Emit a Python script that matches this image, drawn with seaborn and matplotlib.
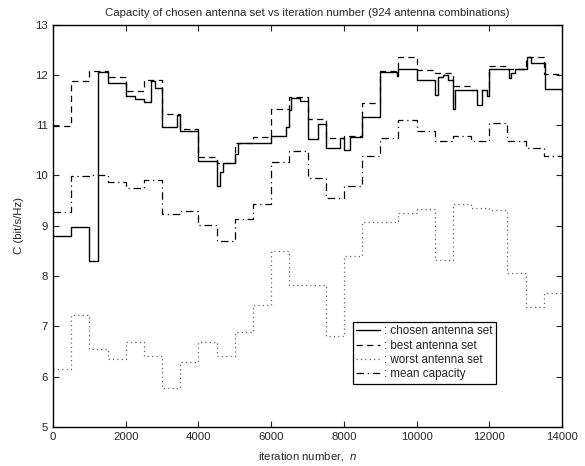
import matplotlib
matplotlib.use("Agg")
import matplotlib.pyplot as plt
import seaborn as sns
import pandas as pd

# ---------------- data (step breakpoints: iteration, capacity) ----------------
chosen_t = [0, 500, 1000, 1250, 1500, 2000, 2250, 2500, 2700, 2800, 3000, 3400, 3500,
            4000, 4500, 4580, 4670, 5000, 5100, 6000, 6400, 6480, 6550, 6800, 7000,
            7300, 7500, 7880, 8010, 8160, 8500, 9000, 9450, 9500, 10000, 10500, 10578,
            10725, 10862, 11000, 11046, 11661, 11798, 11936, 12000, 12532, 12600, 12700,
            13037, 13156, 13541, 14000]
chosen_c = [8.80, 8.97, 8.30, 12.05, 11.84, 11.57, 11.52, 11.46, 11.88, 11.73, 10.97, 11.20, 10.88,
            10.28, 9.79, 10.06, 10.24, 10.42, 10.65, 10.78, 10.97, 11.30, 11.53, 11.47, 10.72,
            11.02, 10.55, 10.74, 10.51, 10.76, 11.16, 12.06, 11.98, 12.11, 11.90, 11.60, 11.96,
            11.99, 11.90, 11.33, 11.70, 11.40, 11.70, 11.57, 12.11, 11.93, 12.03, 12.11,
            12.36, 12.23, 11.72, 11.72]

best_t = [0, 500, 1000, 1500, 2000, 2500, 3000, 3500, 4000, 4500, 5000, 5500, 6000, 6500,
          7000, 7500, 8000, 8500, 9000, 9500, 10000, 10500, 11000, 11500, 12000, 12500,
          13000, 13500, 14000]
best_c = [10.98, 11.88, 12.08, 11.95, 11.68, 11.90, 11.22, 10.92, 10.37, 10.25, 10.65, 10.76,
          11.33, 11.55, 11.12, 10.74, 10.78, 11.43, 12.07, 12.36, 12.10, 12.03, 11.77, 11.70,
          12.18, 12.12, 12.36, 12.02, 12.02]

worst_t = [0, 500, 1000, 1500, 2000, 2500, 3000, 3500, 4000, 4500, 5000, 5500, 6000, 6500,
           7500, 8000, 8500, 9500, 10000, 10500, 11000, 11500, 12000, 12500, 13000, 13500, 14000]
worst_c = [6.16, 7.23, 6.55, 6.36, 6.68, 6.42, 5.77, 6.29, 6.68, 6.42, 6.89, 7.43, 8.49, 7.83,
           6.81, 8.39, 9.08, 9.26, 9.33, 8.32, 9.43, 9.35, 9.31, 8.06, 7.39, 7.66, 7.66]

mean_t = [0, 500, 1000, 1500, 2000, 2500, 3000, 3500, 4000, 4500, 5000, 5500, 6000, 6500,
          7000, 7500, 8000, 8500, 9000, 9500, 10000, 10500, 11000, 11500, 12000, 12500,
          13000, 13500, 14000]
mean_c = [9.27, 9.98, 10.00, 9.86, 9.76, 9.90, 9.23, 9.30, 9.01, 8.70, 9.14, 9.43, 10.27, 10.49,
          9.94, 9.55, 9.80, 10.38, 10.75, 11.11, 10.88, 10.69, 10.78, 10.69, 11.05, 10.68,
          10.55, 10.39, 10.39]

labels = [": chosen antenna set", ": best antenna set", ": worst antenna set", ": mean capacity"]
x_ticks = [0, 2000, 4000, 6000, 8000, 10000, 12000, 14000]
y_ticks = [5, 6, 7, 8, 9, 10, 11, 12, 13]

# ---------------- style ----------------
sns.set_style("ticks")
plt.rcParams["font.family"] = ["Liberation Sans", "DejaVu Sans"]
plt.rcParams["mathtext.fontset"] = "custom"
plt.rcParams["mathtext.it"] = "Liberation Sans:italic"
plt.rcParams["mathtext.rm"] = "Liberation Sans"

fig = plt.figure(figsize=(5.85, 4.66), dpi=100)
ax = fig.add_axes([0.0906, 0.0837, 0.8701, 0.8637])

series = [
    (chosen_t, chosen_c, dict(color="black", linestyle="-", linewidth=1.0)),
    (best_t, best_c, dict(color="black", linestyle=(0, (5, 3.5)), linewidth=0.9)),
    (worst_t, worst_c, dict(color="#666666", linestyle=(0, (1, 2.5)), linewidth=0.9)),
    (mean_t, mean_c, dict(color="black", linestyle=(0, (6, 3, 1, 3)), linewidth=0.9)),
]
for (t, c, st), lab in zip(series, labels):
    df = pd.DataFrame({"iteration": t, "capacity": c})
    sns.lineplot(data=df, x="iteration", y="capacity", ax=ax, drawstyle="steps-post",
                 estimator=None, sort=True, label=lab, **st)

ax.set_xlim(0, 14000)
ax.set_ylim(5, 13)
ax.set_xticks(x_ticks)
ax.set_yticks(y_ticks)
ax.tick_params(direction="in", top=True, right=True, labelsize=8.2, length=4, width=0.8)
for s in ax.spines.values():
    s.set_linewidth(1.0)
    s.set_color("black")

ax.set_title("Capacity of chosen antenna set vs iteration number (924 antenna combinations)",
             fontsize=8.2, pad=6)
ax.set_xlabel(r"iteration number,  $n$", fontsize=8.2, labelpad=6)
ax.set_ylabel("C (bit/s/Hz)", fontsize=8.2, labelpad=8)

leg = ax.legend(loc="lower left", bbox_to_anchor=(0.589, 0.107), fontsize=8.4,
                frameon=True, fancybox=False, edgecolor="black", framealpha=1,
                handlelength=2.0, handletextpad=0.4, borderpad=0.3, labelspacing=0.2,
                borderaxespad=0)
leg.get_frame().set_linewidth(0.9)

fig.savefig("out.png", dpi=100, facecolor="white")
